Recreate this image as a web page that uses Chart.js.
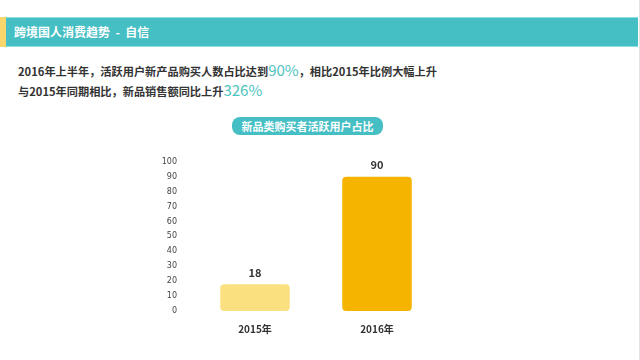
<!DOCTYPE html>
<html>
<head>
<meta charset="utf-8">
<script src="https://cdn.jsdelivr.net/npm/chart.js@4"></script>
<style>
  html, body { margin: 0; padding: 0; background: #fff; }
  body { width: 640px; height: 360px; position: relative; overflow: hidden;
         font-family: "Noto Sans CJK SC", "Noto Sans", sans-serif; }
  .header { position: absolute; left: 0; top: 17px; width: 638px; height: 30px;
            background: #45bec4; border-top: 1px solid #8fdde0; border-bottom: 1px solid #8fdde0; box-sizing: border-box; }
  .header .accent { position: absolute; left: 0; top: -1px; width: 6px; height: 30px; background: #f8d66d; }
  .header .title { position: absolute; left: 14px; top: 5px; color: #fff; font-size: 12px; font-weight: bold; line-height: 18px; white-space: pre; }
  .edge { position: absolute; left: 639px; top: 0; width: 1px; height: 360px; background: #e4e4e4; }
  .line { position: absolute; left: 18px; font-size: 11.2px; font-weight: bold; color: #333; white-space: nowrap; line-height: 20px; }
  .line .hl { color: #4fc3bf; font-size: 15px; font-weight: normal; }
  .pill { position: absolute; left: 232px; top: 117px; width: 151px; height: 18px; border-radius: 8px;
          background: #45bec4; color: #fff; font-size: 11px; font-weight: bold; text-align: center; line-height: 18px; }
  .chart-box { position: absolute; left: 140px; top: 140px; width: 320px; height: 210px; }
</style>
</head>
<body>
<div class="header"><div class="accent"></div><div class="title">跨境国人消费趋势  -  自信</div></div>
<div class="edge"></div>
<div class="line" style="top:60px">2016年上半年，活跃用户新产品购买人数占比达到<span class="hl">90%</span>，相比2015年比例大幅上升</div>
<div class="line" style="top:80px">与2015年同期相比，新品销售额同比上升<span class="hl">326%</span></div>
<div class="pill">新品类购买者活跃用户占比</div>
<div class="chart-box"><canvas id="chart" width="320" height="210"></canvas></div>

<script>
// chart data
const categories = ['2015年', '2016年'];
const activeShare = [18, 90];
const barColors = ['#fbe07f', '#f4b400'];
const yTicks = [0, 10, 20, 30, 40, 50, 60, 70, 80, 90, 100];

// draws the value above each bar
const valueLabels = {
  id: 'valueLabels',
  afterDatasetsDraw(chart) {
    const ctx = chart.ctx;
    const meta = chart.getDatasetMeta(0);
    ctx.save();
    ctx.font = 'bold 11px "Noto Sans CJK SC", sans-serif';
    ctx.fillStyle = '#333';
    ctx.textAlign = 'center';
    ctx.textBaseline = 'bottom';
    meta.data.forEach((bar, i) => {
      ctx.fillText(String(activeShare[i]), bar.x, bar.y - 6);
    });
    ctx.restore();
  }
};

new Chart(document.getElementById('chart').getContext('2d'), {
  type: 'bar',
  data: {
    labels: categories,
    datasets: [{
      data: activeShare,
      backgroundColor: barColors,
      borderRadius: 4,
      borderSkipped: false,
      barPercentage: 0.57,
      categoryPercentage: 1
    }]
  },
  options: {
    responsive: false,
    animation: false,
    layout: { padding: { top: 17, right: 22, left: 0, bottom: 0 } },
    plugins: { legend: { display: false }, tooltip: { enabled: false } },
    scales: {
      x: {
        grid: { display: false, drawTicks: false },
        border: { display: false },
        ticks: { color: '#333', padding: 12, font: { size: 10, weight: 'bold', family: '"Noto Sans CJK SC", sans-serif' } },
        afterFit(scale) { scale.height = 39; }
      },
      y: {
        min: 0,
        max: 100,
        grid: { display: false, drawTicks: false },
        border: { display: false },
        afterBuildTicks(scale) { scale.ticks = yTicks.map(v => ({ value: v })); },
        ticks: { color: '#444', padding: 17, font: { size: 8, family: '"DejaVu Sans", sans-serif' } },
        afterFit(scale) { scale.width = 54; }
      }
    }
  },
  plugins: [valueLabels]
});
</script>
</body>
</html>
